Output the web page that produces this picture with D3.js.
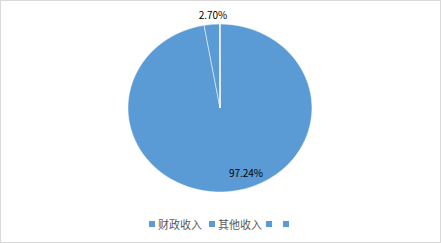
<!DOCTYPE html>
<html lang="zh">
<head>
<meta charset="utf-8">
<title></title>
<style>
  body { margin: 0; background: #fff; }
  svg { display: block; font-family: "Noto Sans CJK SC", "DejaVu Sans", sans-serif; }
</style>
</head>
<body>
<svg class="chart"></svg>
<script src="https://d3js.org/d3.v7.min.js"></script>
<script>
const categories = ["财政收入", "其他收入", "", ""];
const values = [97.24, 2.70, 0.06, 0];
const labels = ["97.24%", "2.70%", "", ""];

const W = 441, H = 243;
const cx = 220, cy = 108, rx = 92, ry = 84;
const blue = "#5B9BD5";

const svg = d3.select(".chart").attr("width", W).attr("height", H);

svg.append("rect")
  .attr("x", 0.5).attr("y", 0.5)
  .attr("width", W - 1).attr("height", H - 1)
  .attr("fill", "#fff").attr("stroke", "#d9d9d9");

const data = categories.map((c, i) => ({ name: c, value: values[i], label: labels[i] }));
const pie = d3.pie().value(d => d.value).sort(null);
const arcs = pie(data);
const arc = d3.arc().innerRadius(0).outerRadius(1);

// ellipse: draw on unit circle then scale
const g = svg.append("g")
  .attr("transform", "translate(" + cx + "," + cy + ") scale(" + rx + "," + ry + ")");

g.selectAll("path")
  .data(arcs)
  .enter()
  .append("path")
  .attr("d", arc)
  .attr("fill", blue)
  .attr("stroke", "#fff")
  .attr("stroke-width", 0.5)
  .attr("vector-effect", "non-scaling-stroke");

// labels
const labelPos = [[246, 172], [213, 14]];
svg.selectAll("text.lbl")
  .data(arcs.filter(d => d.data.label))
  .enter()
  .append("text")
  .attr("class", "lbl")
  .attr("x", (d, i) => labelPos[i][0])
  .attr("y", (d, i) => labelPos[i][1])
  .attr("text-anchor", "middle")
  .attr("dominant-baseline", "central")
  .style("font-size", "10px")
  .style("fill", "#000")
  .text(d => d.data.label);

// legend
const legendX = [149, 209, 266, 283];
const legend = svg.append("g").attr("id", "legend");
legend.selectAll("rect")
  .data(categories).enter().append("rect")
  .attr("x", (d, i) => legendX[i])
  .attr("y", 221)
  .attr("width", 6).attr("height", 6)
  .attr("fill", blue);
legend.selectAll("text")
  .data(categories).enter().append("text")
  .attr("x", (d, i) => legendX[i] + 9)
  .attr("y", 224)
  .attr("dominant-baseline", "central")
  .style("font-size", "11px")
  .style("fill", "#595959")
  .text(d => d);
</script>
</body>
</html>
